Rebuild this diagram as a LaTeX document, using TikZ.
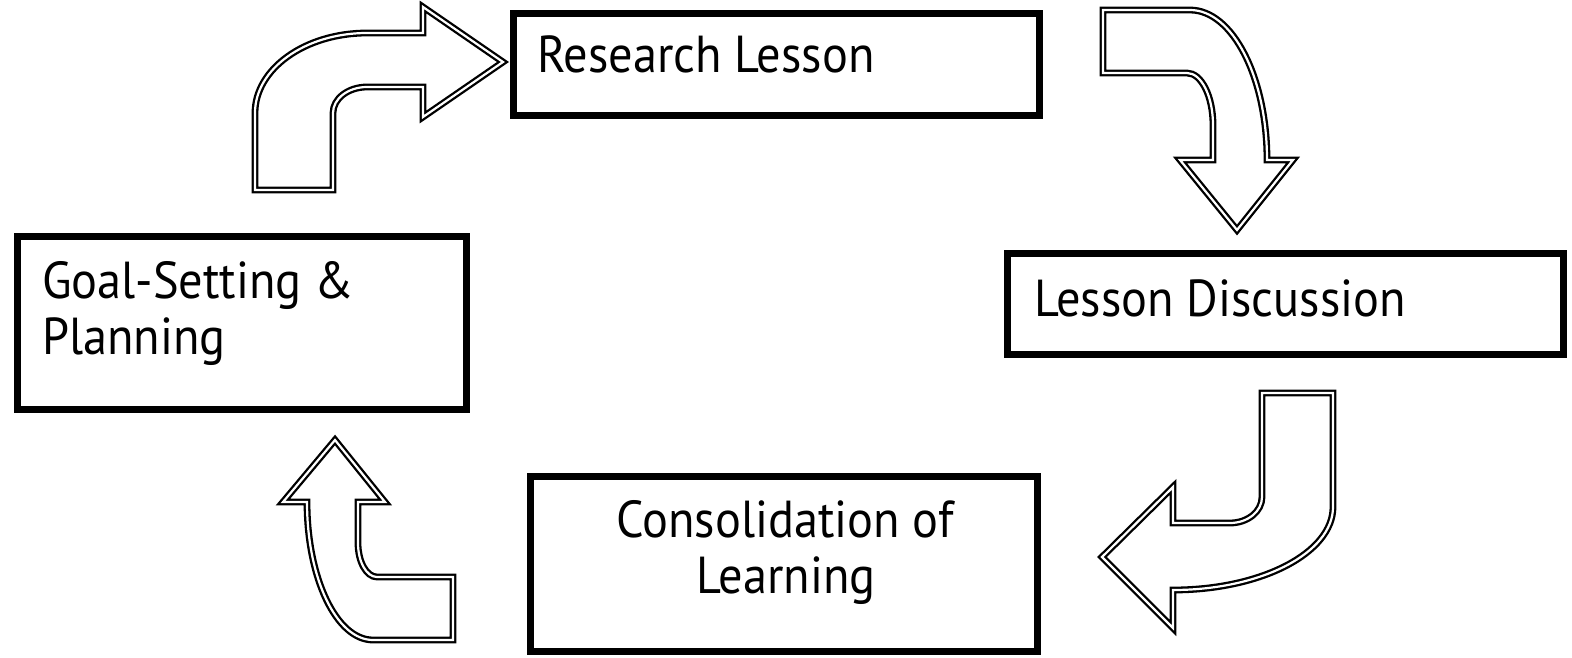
\documentclass[tikz,border=0pt]{standalone}
\usepackage{fontspec}
\setmainfont[FakeStretch=0.93]{PT Sans}
\begin{document}
\begin{tikzpicture}[x=1pt,y=-1pt,
  box/.style={draw=black, line width=7pt, rectangle, inner sep=0pt, fill=white},
  txt/.style={inner sep=0pt, font=\fontsize{52}{56}\selectfont},
  dbl/.style={draw=black, line width=2.3pt, double=white, double distance=2.2pt, line join=miter}]
\useasboundingbox[fill=white] (0,0) rectangle (1572,658);
% boxes
\node[box, minimum width=526pt, minimum height=102pt] (rl) at (776.5,64.5) {};
\node[box, minimum width=556pt, minimum height=101pt] (ld) at (1285.5,304) {};
\node[box, minimum width=449pt, minimum height=173pt] (gs) at (242,323) {};
\node[box, minimum width=507pt, minimum height=175pt] (cl) at (784,564) {};
% texts
\node[txt, anchor=base west] (rlt) at (537,73) {Research Lesson};
\node[txt, anchor=base west] (ldt) at (1034,316) {Lesson Discussion};
\node[txt, anchor=base west] (gst1) at (42,298) {Goal-Setting \&};
\node[txt, anchor=base west] (gst2) at (42,354) {Planning};
\node[txt, anchor=base] (clt1) at (785,537) {Consolidation of};
\node[txt, anchor=base] (clt2) at (786,593) {Learning};
% arrows
\draw[dbl] (255,190) -- (255,113) .. controls (255,68.8) and (305.1,33) .. (367,33) -- (423,33) -- (423,7) -- (503,62) -- (423,117) -- (423,87) -- (367,87) .. controls (348.2,87) and (333,98.6) .. (333,113) -- (333,190) -- cycle;
\draw[dbl] (1103,10) -- (1190,10) .. controls (1232.5,10) and (1267,77.2) .. (1267,160) -- (1293,160) -- (1237,230) -- (1180,160) -- (1213,160) -- (1213,125) .. controls (1213,96.3) and (1201.4,73) .. (1187,73) -- (1103,73) -- cycle;
\draw[dbl] (1262,393) -- (1333,393) -- (1333,507) .. controls (1333,552.8) and (1261.4,590) .. (1173,590) -- (1173,628) -- (1102,557) -- (1173,487) -- (1173,523) -- (1230,523) .. controls (1247.7,523) and (1262,511.4) .. (1262,497) -- cycle;
\draw[dbl] (453,577) -- (377,577) .. controls (366.5,577) and (358,561.8) .. (358,543) -- (358,502) -- (385,502) -- (335,440) -- (283,502) -- (307,502) .. controls (307,578.2) and (336.5,640) .. (373,640) -- (453,640) -- cycle;
\end{tikzpicture}
\end{document}
